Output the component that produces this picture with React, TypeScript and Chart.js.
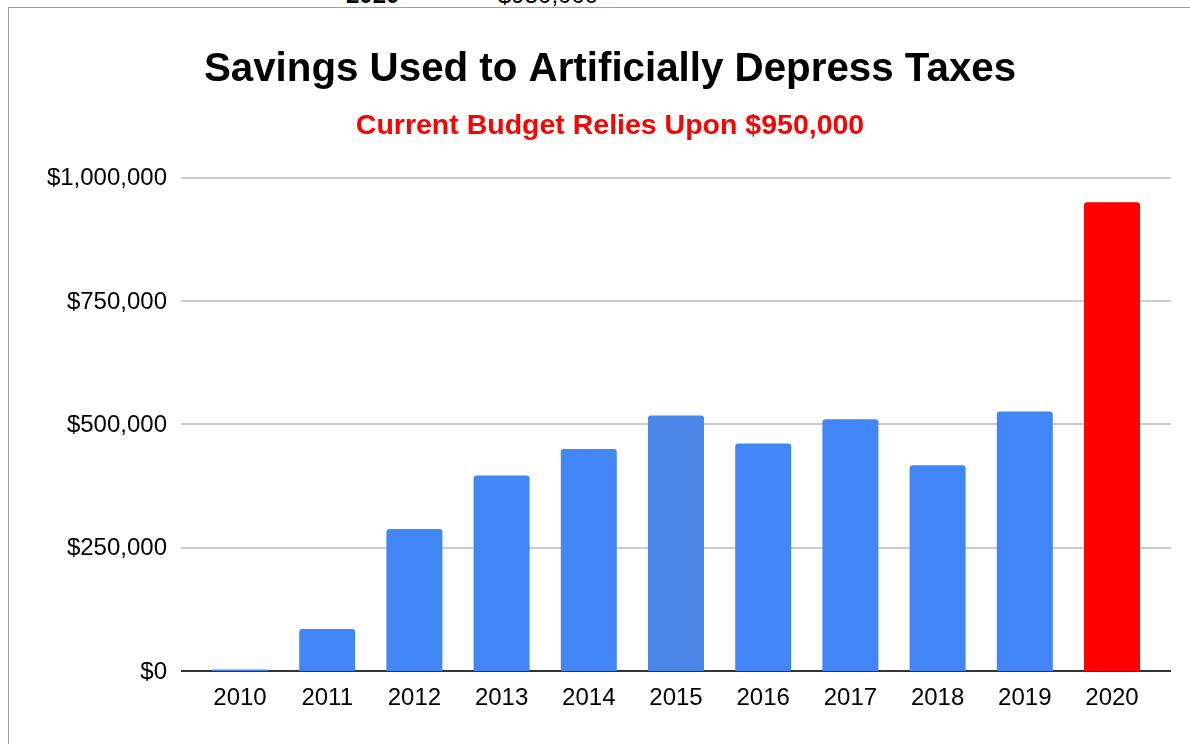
import React, { useEffect, useRef } from "react";
import { Chart, registerables } from "chart.js";

Chart.register(...registerables);

const years: string[] = ["2010", "2011", "2012", "2013", "2014", "2015", "2016", "2017", "2018", "2019", "2020"];
const savings: number[] = [3000, 85000, 288000, 396000, 450000, 518000, 461000, 510000, 417000, 526000, 950000];
const barColors: string[] = ["#4285f4", "#4285f4", "#4285f4", "#4285f4", "#4285f4", "#4a86e8", "#4285f4", "#4285f4", "#4285f4", "#4285f4", "#ff0000"];
const yTicks: number[] = [0, 250000, 500000, 750000, 1000000];

const titleText = "Savings Used to Artificially Depress Taxes";
const subtitleText = "Current Budget Relies Upon $950,000";

const FONT = "'Liberation Sans', Arial, Helvetica, sans-serif";
const EXT = 15.4;

const gridPlugin = {
  id: "extGrid",
  beforeDatasetsDraw(chart: any) {
    const { ctx, chartArea, scales } = chart;
    const y = scales.y;
    ctx.save();
    ctx.lineWidth = 2;
    y.ticks.forEach((t: any) => {
      const py = Math.round(y.getPixelForValue(t.value));
      ctx.strokeStyle = t.value === 0 ? "#333333" : "#cccccc";
      ctx.beginPath();
      ctx.moveTo(chartArea.left - EXT, py);
      ctx.lineTo(chartArea.right + EXT, py);
      ctx.stroke();
    });
    ctx.restore();
  },
};

export default function App() {
  const ref = useRef<HTMLCanvasElement | null>(null);

  useEffect(() => {
    if (!ref.current) return;
    const chart = new Chart(ref.current, {
      type: "bar",
      data: {
        labels: years,
        datasets: [
          {
            data: savings,
            backgroundColor: barColors,
            borderWidth: 0,
            borderRadius: { topLeft: 3, topRight: 3, bottomLeft: 0, bottomRight: 0 },
            borderSkipped: false,
            barPercentage: 0.642,
            categoryPercentage: 1,
            yAxisID: "y",
          },
        ],
      },
      options: {
        animation: false,
        responsive: false,
        devicePixelRatio: 1,
        layout: { padding: { left: 0, right: 0, top: 0, bottom: 0 } },
        plugins: {
          legend: { display: false },
          tooltip: { enabled: false },
          title: {
            display: true,
            text: titleText,
            color: "#000000",
            font: { family: FONT, size: 40.3, weight: "bold", lineHeight: 1.2 },
            padding: { top: 38, bottom: 6 },
          },
          subtitle: {
            display: true,
            text: subtitleText,
            color: "#ff0000",
            font: { family: FONT, size: 28.5, weight: "bold", lineHeight: 1.2 },
            padding: { top: 9, bottom: 34 },
          },
        },
        scales: {
          x: {
            offset: true,
            grid: { display: false, drawTicks: false, tickLength: 0 },
            border: { display: false },
            ticks: {
              color: "#000000",
              font: { family: FONT, size: 24 },
              padding: 13,
              maxRotation: 0,
              autoSkip: false,
            },
            afterFit(scale: any) {
              scale.height = 73;
            },
          },
          y: {
            position: "left",
            min: 0,
            max: 1000000,
            afterBuildTicks(scale: any) {
              scale.ticks = yTicks.map((v) => ({ value: v }));
            },
            grid: { display: false, drawTicks: false, tickLength: 0 },
            border: { display: false },
            ticks: {
              color: "#000000",
              font: { family: FONT, size: 24 },
              padding: 29.4,
              labelOffset: 1,
              callback: (v: any) => "$" + Number(v).toLocaleString("en-US"),
            },
            afterFit(scale: any) {
              scale.width = 187.4;
            },
          },
          yPad: {
            type: "linear",
            position: "right",
            display: true,
            min: 0,
            max: 1,
            grid: { display: false, drawTicks: false },
            border: { display: false },
            ticks: { display: false },
            afterFit(scale: any) {
              scale.width = 55.4;
            },
          },
        },
      },
      plugins: [gridPlugin],
    });
    return () => chart.destroy();
  }, []);

  return (
    <div style={{ position: "absolute", left: 8, top: 7 }}>
      <div
        style={{
          position: "absolute",
          top: -24,
          left: 0,
          width: 1182,
          height: 24,
          fontFamily: FONT,
          fontSize: 24,
          lineHeight: "24px",
          color: "#000",
          whiteSpace: "nowrap",
        }}
      >
        <span style={{ position: "absolute", left: 338, fontWeight: "bold" }}>2020</span>
        <span style={{ position: "absolute", left: 490 }}>$950,000</span>
      </div>
      <div
        style={{
          width: 1181,
          height: 736,
          overflow: "hidden",
          borderTop: "1px solid #9e9e9e",
          borderLeft: "1px solid #9e9e9e",
          position: "relative",
          background: "#fff",
        }}
      >
        <canvas ref={ref} width={1202} height={736} style={{ display: "block", width: 1202, height: 736 }} />
      </div>
    </div>
  );
}
